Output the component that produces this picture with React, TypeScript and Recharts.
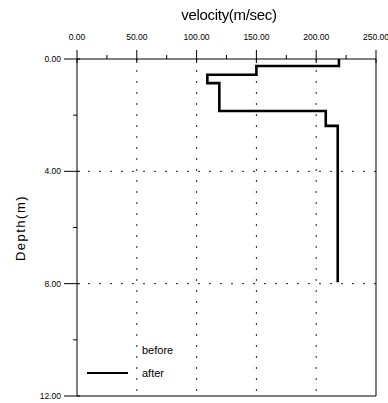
import { ReferenceLine, Scatter, ScatterChart, XAxis, YAxis } from "recharts";

const VELOCITY_TICKS = [0, 50, 100, 150, 200, 250];
const VELOCITY_MINOR = [25, 75, 125, 175, 225];
const DEPTH_TICKS = [0, 4, 8, 12];
const DEPTH_MINOR = [2, 6, 10];

// velocity profile: layer tops (m) and layer velocities (m/sec)
const LAYER_TOP = [0, 0.25, 0.56, 0.86, 1.85, 2.38];
const LAYER_VELOCITY = [219, 150, 109, 119, 208, 218];
const PROFILE_BOTTOM = 7.95;

const SERIES_NAMES = ["before", "after"];

const FONT = "'Liberation Sans', Arial, sans-serif";

function stepProfile(tops: number[], vels: number[], bottom: number) {
  const pts: { velocity: number; depth: number }[] = [];
  tops.forEach((top, i) => {
    const next = i + 1 < tops.length ? tops[i + 1] : bottom;
    pts.push({ velocity: vels[i], depth: top });
    pts.push({ velocity: vels[i], depth: next });
  });
  return pts;
}

const afterData = stepProfile(LAYER_TOP, LAYER_VELOCITY, PROFILE_BOTTOM);

function VelocityTick(props: any) {
  const { x, y, payload } = props;
  const major = VELOCITY_TICKS.includes(payload.value);
  return (
    <g>
      {major ? (
        <line x1={x} x2={x} y1={y - 9} y2={y + 4} stroke="#000" />
      ) : (
        <line x1={x} x2={x} y1={y - 4} y2={y} stroke="#000" />
      )}
      {major && (
        <text x={x} y={y - 19} textAnchor="middle" fontSize={8.5} fontFamily={FONT} fill="#000">
          {payload.value.toFixed(2)}
        </text>
      )}
    </g>
  );
}

function DepthTick(props: any) {
  const { x, y, payload } = props;
  const major = DEPTH_TICKS.includes(payload.value);
  return (
    <g>
      {major ? (
        <line x1={x - 13} x2={x + 3} y1={y} y2={y} stroke="#000" />
      ) : (
        <line x1={x - 4} x2={x} y1={y} y2={y} stroke="#000" />
      )}
      {major && (
        <text x={x - 16} y={y + 3} textAnchor="end" fontSize={8.5} fontFamily={FONT} fill="#000">
          {payload.value.toFixed(2)}
        </text>
      )}
    </g>
  );
}

function LegendBox() {
  return (
    <svg width={110} height={45} style={{ position: "absolute", left: 87, top: 338 }}>
      {SERIES_NAMES.map((name, i) => (
        <g key={name}>
          {name === "after" && (
            <line x1={0} x2={41} y1={12 + i * 23} y2={12 + i * 23} stroke="#000" strokeWidth={2} />
          )}
          <text x={55} y={16 + i * 23} fontSize={11} fontFamily={FONT} fill="#000">
            {name}
          </text>
        </g>
      ))}
    </svg>
  );
}

export default function App() {
  return (
    <div style={{ position: "fixed", left: 0, top: 0, width: 388, height: 403, background: "#fff" }}>
      <ScatterChart width={388} height={403} margin={{ top: 0, right: 12, bottom: 7, left: 0 }}>
        <XAxis
          type="number"
          dataKey="velocity"
          orientation="top"
          domain={[0, 250]}
          ticks={[...VELOCITY_TICKS, ...VELOCITY_MINOR].sort((a, b) => a - b)}
          interval={0}
          height={59}
          tickSize={0}
          tickMargin={0}
          tickLine={false}
          tick={<VelocityTick />}
          axisLine={{ stroke: "#000" }}
        />
        <YAxis
          type="number"
          dataKey="depth"
          reversed
          domain={[0, 12]}
          ticks={[...DEPTH_TICKS, ...DEPTH_MINOR].sort((a, b) => a - b)}
          interval={0}
          width={77}
          tickSize={0}
          tickMargin={0}
          tickLine={false}
          tick={<DepthTick />}
          axisLine={{ stroke: "#000" }}
        />
        {VELOCITY_TICKS.slice(1, -1).map((v) => (
          <ReferenceLine key={"v" + v} x={v} stroke="#222" strokeDasharray="2 9" />
        ))}
        {DEPTH_TICKS.slice(1, -1).map((d) => (
          <ReferenceLine key={"d" + d} y={d} stroke="#222" strokeDasharray="2 9" />
        ))}
        <ReferenceLine x={250} stroke="#000" />
        <ReferenceLine y={12} stroke="#000" />
        <Scatter
          name="after"
          data={afterData}
          line={{ stroke: "#000", strokeWidth: 2.6 }}
          lineType="joint"
          shape={() => <g />}
          isAnimationActive={false}
        />
      </ScatterChart>
      <LegendBox />
      <div
        style={{
          position: "absolute",
          left: 0,
          width: 458,
          top: 6,
          textAlign: "center",
          fontFamily: FONT,
          fontSize: 15,
          letterSpacing: -0.3,
        }}
      >
        velocity(m/sec)
      </div>
      <div
        style={{
          position: "absolute",
          left: 20,
          top: 228,
          transform: "translate(-50%, -50%) rotate(-90deg)",
          whiteSpace: "nowrap",
          fontFamily: FONT,
          fontSize: 13,
          letterSpacing: 1.5,
        }}
      >
        Depth(m)
      </div>
    </div>
  );
}
